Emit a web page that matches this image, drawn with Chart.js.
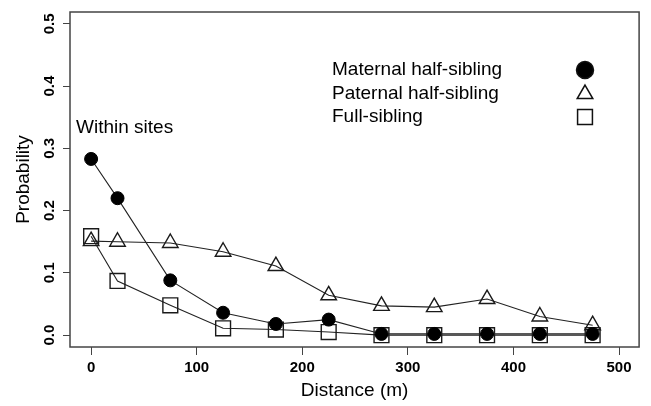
<!DOCTYPE html>
<html>
<head>
<meta charset="utf-8">
<script src="https://cdn.jsdelivr.net/npm/chart.js@4"></script>
<style>
  html, body { margin: 0; padding: 0; background: #fff; }
  #wrap { width: 651px; height: 406px; }
</style>
</head>
<body>
<div id="wrap"><canvas id="grafico" width="651" height="406"></canvas></div>
<script>
// Datos
const distancias = [0, 25, 75, 125, 175, 225, 275, 325, 375, 425, 475];
const materno = [0.283, 0.220, 0.088, 0.036, 0.018, 0.025, 0.002, 0.002, 0.002, 0.002, 0.002];
const paterno = [0.151, 0.150, 0.148, 0.134, 0.111, 0.064, 0.047, 0.045, 0.058, 0.030, 0.016];
const hermanos = [0.159, 0.087, 0.048, 0.011, 0.009, 0.005, 0.000, 0.000, 0.000, 0.000, 0.000];

const ticksX = [0, 100, 200, 300, 400, 500];
const ticksY = [0.0, 0.1, 0.2, 0.3, 0.4, 0.5];

const etiquetasLeyenda = ['Maternal half-sibling', 'Paternal half-sibling', 'Full-sibling'];
const textoAnotacion = 'Within sites';

const FUENTE = '"Liberation Sans", Arial, sans-serif';

function puntos(valores) {
    return distancias.map((d, i) => ({ x: d, y: valores[i] }));
}

// Caja del gráfico, leyenda y anotación (estilo R)
const pluginExtras = {
    id: 'extras',
    afterDatasetsDraw(chart) {
        const ctx = chart.ctx;
        const a = chart.chartArea;
        ctx.save();
        ctx.strokeStyle = '#444';
        ctx.lineWidth = 1.5;
        ctx.strokeRect(a.left, a.top, a.right - a.left, a.bottom - a.top);

        ctx.fillStyle = '#000';
        ctx.font = '19px ' + FUENTE;
        ctx.textBaseline = 'middle';
        ctx.textAlign = 'left';
        ctx.fillText(textoAnotacion, 76, 128);

        const filas = [70, 94, 117];
        const estilos = [
            { pointStyle: 'circle', radius: 8.5, fill: '#000' },
            { pointStyle: 'triangle', radius: 9, fill: 'transparent' },
            { pointStyle: 'rect', radius: 10.5, fill: 'transparent' }
        ];
        etiquetasLeyenda.forEach((txt, i) => {
            ctx.fillStyle = '#000';
            ctx.fillText(txt, 332, filas[i]);
            ctx.fillStyle = estilos[i].fill;
            ctx.strokeStyle = '#111';
            ctx.lineWidth = 1.5;
            Chart.helpers.drawPoint(ctx, {
                pointStyle: estilos[i].pointStyle,
                radius: estilos[i].radius,
                rotation: 0,
                borderWidth: 1.5
            }, 585, filas[i]);
        });
        ctx.restore();
    }
};

const config = {
    type: 'scatter',
    data: {
        datasets: [{
            label: etiquetasLeyenda[0],
            data: puntos(materno),
            showLine: true,
            borderColor: '#222',
            borderWidth: 1.1,
            pointStyle: 'circle',
            pointRadius: 6.5,
            pointBackgroundColor: '#000',
            pointBorderColor: '#000',
            pointBorderWidth: 1
        }, {
            label: etiquetasLeyenda[1],
            data: puntos(paterno),
            showLine: true,
            borderColor: '#222',
            borderWidth: 1.1,
            pointStyle: 'triangle',
            pointRadius: 9,
            pointBackgroundColor: 'transparent',
            pointBorderColor: '#1a1a1a',
            pointBorderWidth: 1.4
        }, {
            label: etiquetasLeyenda[2],
            data: puntos(hermanos),
            showLine: true,
            borderColor: '#222',
            borderWidth: 1.1,
            pointStyle: 'rect',
            pointRadius: 10.5,
            pointBackgroundColor: 'transparent',
            pointBorderColor: '#1a1a1a',
            pointBorderWidth: 1.4
        }]
    },
    options: {
        responsive: false,
        animation: false,
        layout: { padding: { top: 8, right: 4, left: 0, bottom: 0 } },
        plugins: {
            legend: { display: false },
            tooltip: { enabled: false }
        },
        scales: {
            x: {
                type: 'linear',
                min: -20,
                max: 519,
                afterBuildTicks: s => { s.ticks = ticksX.map(v => ({ value: v })); },
                afterFit: s => { s.height = 59; },
                grid: { drawOnChartArea: false, drawTicks: true, tickLength: 8, color: '#444', lineWidth: 1 },
                border: { display: false },
                ticks: {
                    color: '#000',
                    font: { family: FUENTE, size: 15, weight: 'bold' },
                    padding: 4,
                    maxRotation: 0,
                    minRotation: 0
                },
                title: {
                    display: true,
                    text: 'Distance (m)',
                    color: '#000',
                    font: { family: FUENTE, size: 19 },
                    padding: { top: 0, bottom: 4 }
                }
            },
            y: {
                type: 'linear',
                min: -0.019,
                max: 0.519,
                afterBuildTicks: s => { s.ticks = ticksY.map(v => ({ value: v })); },
                afterFit: s => { s.width = 70; },
                grid: { drawOnChartArea: false, drawTicks: true, tickLength: 7, color: '#444', lineWidth: 1 },
                border: { display: false },
                ticks: {
                    color: '#000',
                    font: { family: FUENTE, size: 15, weight: 'bold' },
                    padding: 3,
                    minRotation: 90,
                    maxRotation: 90,
                    crossAlign: 'center',
                    callback: v => v.toFixed(1)
                },
                title: {
                    display: true,
                    text: 'Probability',
                    color: '#000',
                    font: { family: FUENTE, size: 19 },
                    padding: { top: 12, bottom: 0 }
                }
            }
        }
    },
    plugins: [pluginExtras]
};

new Chart(document.getElementById('grafico').getContext('2d'), config);
</script>
</body>
</html>
